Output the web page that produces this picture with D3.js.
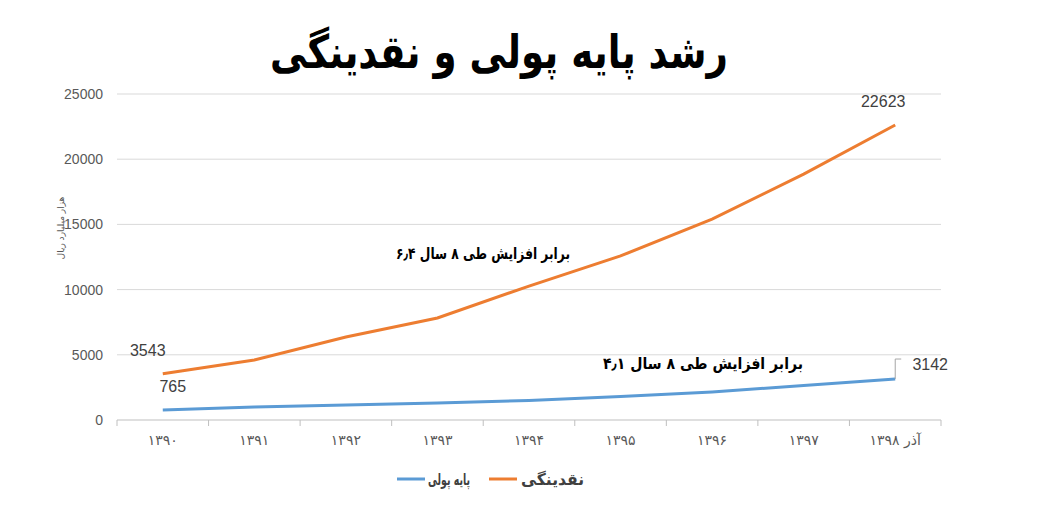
<!DOCTYPE html>
<html><head><meta charset="utf-8">
<script src="https://cdn.jsdelivr.net/npm/d3@7"></script>
<style>body{margin:0;background:#fff;font-family:"DejaVu Sans","Noto Sans",sans-serif}</style>
</head><body><svg id="c" width="1061" height="508"></svg>
<script>
const categories=["۱۳۹۰","۱۳۹۱","۱۳۹۲","۱۳۹۳","۱۳۹۴","۱۳۹۵","۱۳۹۶","۱۳۹۷","آذر ۱۳۹۸"];
const liquidity=[3543,4600,6365,7820,10270,12580,15400,18860,22623];
const monetaryBase=[765,1000,1150,1300,1500,1800,2150,2650,3142];
const yTicks=[0,5000,10000,15000,20000,25000];
const svg=d3.select("#c");
const x=d3.scaleBand().domain(categories).range([117,941]);
const y=d3.scaleLinear().domain([0,25000]).range([420,94]);
const cx=d=>x(d)+x.bandwidth()/2;
svg.selectAll(".g").data(yTicks.slice(1)).join("line").attr("x1",117).attr("x2",941)
 .attr("y1",d=>y(d)).attr("y2",d=>y(d)).attr("stroke","#d9d9d9");
svg.append("line").attr("x1",117).attr("x2",941).attr("y1",y(0)).attr("y2",y(0)).attr("stroke","#bfbfbf");
svg.selectAll(".tk").data(d3.range(categories.length+1)).join("line")
 .attr("x1",i=>117+i*x.step()).attr("x2",i=>117+i*x.step()).attr("y1",y(0)).attr("y2",y(0)+6).attr("stroke","#bfbfbf");
svg.selectAll(".yl").data(yTicks).join("text").attr("x",103).attr("y",d=>y(d)+5)
 .attr("text-anchor","end").attr("font-size",14).attr("font-family","Liberation Sans").attr("fill","#595959").text(d=>d);
svg.selectAll(".xl").data(categories).join("text").attr("x",cx).attr("y",445)
 .attr("text-anchor","middle").attr("font-size",14).attr("fill","#595959").text(d=>d);
svg.append("text").attr("transform","translate(64,228) rotate(-90)").attr("text-anchor","middle")
 .attr("font-size",9).attr("fill","#595959").text("هزار میلیارد ریال");
const line=d3.line().x((d,i)=>cx(categories[i])).y(d=>y(d));
svg.append("path").attr("d",line(liquidity)).attr("fill","none").attr("stroke","#ed7d31").attr("stroke-width",3);
svg.append("path").attr("d",line(monetaryBase)).attr("fill","none").attr("stroke","#5b9bd5").attr("stroke-width",3);
const lab=(v,xx,yy)=>svg.append("text").attr("x",xx).attr("y",yy).attr("text-anchor","middle").attr("font-size",16).attr("font-family","Liberation Sans").attr("fill","#404040").text(v);
lab(liquidity[0],cx(categories[0])-15,y(liquidity[0])-18);
lab(liquidity[8],cx(categories[8])-12,y(liquidity[8])-18);
lab(monetaryBase[0],cx(categories[0])+10,y(monetaryBase[0])-18);
lab(monetaryBase[8],cx(categories[8])+35,y(monetaryBase[8])-9);
svg.append("line").attr("x1",cx(categories[8])).attr("x2",cx(categories[8])).attr("y1",y(monetaryBase[8])).attr("y2",y(monetaryBase[8])-20).attr("stroke","#a6a6a6");
svg.append("line").attr("x1",cx(categories[8])).attr("x2",cx(categories[8])+6).attr("y1",y(monetaryBase[8])-20).attr("y2",y(monetaryBase[8])-20).attr("stroke","#a6a6a6");
const fa=(t,xx,yy,size,len)=>svg.append("text").attr("x",xx).attr("y",yy).attr("font-size",size).attr("font-weight","bold")
 .attr("textLength",len).attr("lengthAdjust","spacingAndGlyphs").text(t);
fa("۶٫۴ برابر افزایش طی ۸ سال",396,259,16,174);
fa("۴٫۱ برابر افزایش طی ۸ سال",603,369,16,200);
fa("رشد پایه پولی و نقدینگی",270,68,46,458);
svg.append("line").attr("x1",397).attr("x2",425).attr("y1",479).attr("y2",479).attr("stroke","#5b9bd5").attr("stroke-width",3);
fa("پایه پولی",428,485,16,42).attr("fill","#404040");
svg.append("line").attr("x1",489).attr("x2",517).attr("y1",479).attr("y2",479).attr("stroke","#ed7d31").attr("stroke-width",3);
fa("نقدینگی",521,485,16,63).attr("fill","#404040");
</script></body></html>
